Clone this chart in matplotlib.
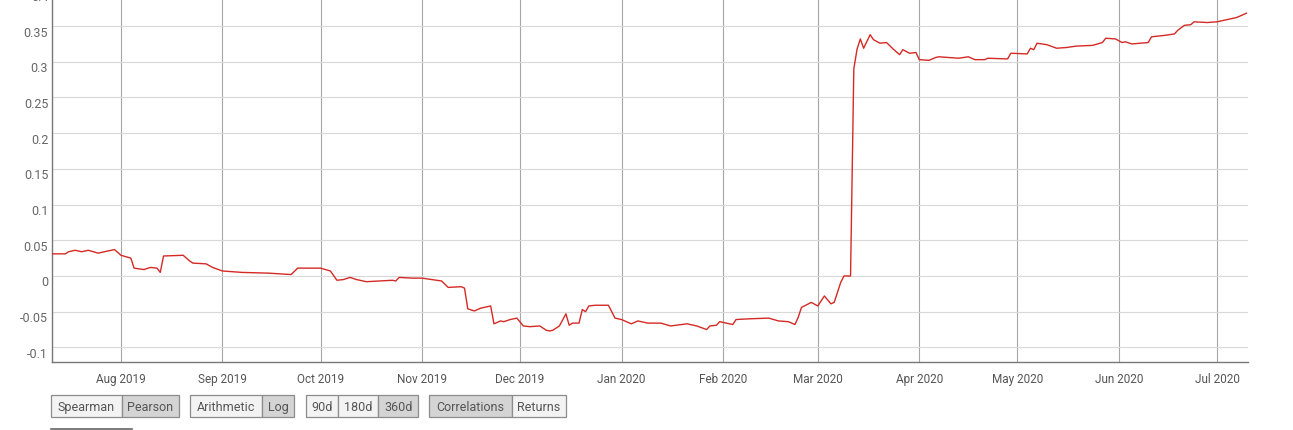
import matplotlib
matplotlib.use("Agg")
import matplotlib.pyplot as plt
import matplotlib.dates as mdates
import matplotlib.transforms as mtransforms
from matplotlib.patches import Rectangle
import pandas as pd

plt.rcParams['font.family'] = ['Roboto', 'DejaVu Sans']

# ---- data ----
start_date = "2019-07-11"
day_offsets = [0, 4, 5, 7, 9, 11, 14, 19, 21, 24, 25, 28, 30, 32, 33, 34, 40, 42, 43, 47, 49,
               52, 58, 66, 73, 75, 77, 82, 85, 87, 89, 91, 93, 96, 100, 104, 105, 106, 110,
               113, 116, 119, 121, 125, 126, 127, 129, 131, 132, 134, 135, 136, 137, 138, 140,
               142, 144, 146, 149, 151, 152, 153, 155, 157, 158, 159, 161, 162, 163, 164, 166,
               170, 172, 174, 177, 179, 182, 186, 189, 194, 197, 200, 201, 203, 204, 208, 209,
               213, 219, 222, 225, 227, 228, 229, 232, 234, 236, 238, 239, 241, 242, 244, 245,
               246, 247, 248, 250, 251, 253, 255, 257, 259, 260, 262, 264, 265, 268, 270, 271,
               277, 280, 282, 285, 286, 292, 293, 298, 299, 300, 301, 304, 307, 310, 313, 318,
               321, 322, 325, 327, 328, 330, 335, 336, 340, 343, 344, 346, 348, 349, 353, 356,
               360, 362, 365]
correlation = [0.031, 0.031, 0.034, 0.036, 0.034, 0.036, 0.032, 0.037, 0.029, 0.025, 0.011,
               0.009, 0.012, 0.011, 0.005, 0.028, 0.029, 0.021, 0.018, 0.017, 0.012,
               0.007, 0.005, 0.004, 0.002, 0.011, 0.011, 0.011, 0.007, -0.006, -0.005, -0.002,
               -0.005, -0.008, -0.007, -0.006, -0.007, -0.002, -0.003,
               -0.003, -0.005, -0.007, -0.016, -0.015, -0.017, -0.046, -0.049, -0.045, -0.044,
               -0.042, -0.067, -0.065, -0.063, -0.064, -0.061,
               -0.059, -0.070, -0.071, -0.070, -0.076, -0.077, -0.076, -0.070, -0.053, -0.069,
               -0.066, -0.066, -0.047, -0.050, -0.042, -0.041,
               -0.041, -0.059, -0.061, -0.067, -0.063, -0.066, -0.066, -0.070, -0.067, -0.070,
               -0.075, -0.070, -0.069, -0.064, -0.068, -0.061,
               -0.060, -0.059, -0.063, -0.064, -0.068, -0.058, -0.044, -0.037, -0.042, -0.028,
               -0.039, -0.037, -0.009, 0.000, 0.000, 0.290,
               0.318, 0.332, 0.319, 0.338, 0.331, 0.326, 0.327, 0.318, 0.310, 0.317, 0.312,
               0.313, 0.303, 0.302, 0.306, 0.307,
               0.305, 0.307, 0.303, 0.303, 0.305, 0.304, 0.312, 0.311, 0.319, 0.317, 0.326,
               0.324, 0.319, 0.320, 0.322, 0.323,
               0.327, 0.333, 0.332, 0.327, 0.328, 0.325, 0.327, 0.335, 0.337, 0.339, 0.344,
               0.351, 0.352, 0.356, 0.355, 0.356,
               0.360, 0.362, 0.368]
y_ticks = [-0.1, -0.05, 0, 0.05, 0.1, 0.15, 0.2, 0.25, 0.3, 0.35, 0.4]
y_tick_labels = ["-0.1", "-0.05", "0", "0.05", "0.1", "0.15", "0.2", "0.25", "0.3", "0.35", "0.4"]
button_groups = [
    [("Spearman", False), ("Pearson", True)],
    [("Arithmetic", False), ("Log", True)],
    [("90d", False), ("180d", False), ("360d", True)],
    [("Correlations", True), ("Returns", False)],
]

dates = pd.Timestamp(start_date) + pd.to_timedelta(day_offsets, unit="D")

W, H = 1293, 431
fig = plt.figure(figsize=(W / 100, H / 100), dpi=100)
fig.patch.set_facecolor("white")

left_px, right_px = 52.3, 1247.7
bottom_px, top_px = 363.3, -8.6
ax = fig.add_axes([left_px / W, 1 - bottom_px / H,
                   (right_px - left_px) / W, (bottom_px - top_px) / H])
ax.plot(dates, correlation, color="#d42a25", lw=1.0, zorder=3)

x0 = pd.Timestamp(start_date)
ax.set_xlim(x0, x0 + pd.Timedelta(days=365.4))
ax.set_ylim(-0.1209, 0.4)

ax.set_yticks(y_ticks)
ax.set_yticklabels(y_tick_labels)
ax.xaxis.set_major_locator(mdates.MonthLocator())
ax.xaxis.set_major_formatter(mdates.DateFormatter("%b %Y"))

ax.grid(axis="y", color="#d9d9d9", lw=0.8)
ax.grid(axis="x", color="#a6a6a6", lw=0.8)
ax.set_axisbelow(True)
for s in ["top", "right"]:
    ax.spines[s].set_visible(False)
ax.spines["left"].set_color("#777777")
ax.spines["bottom"].set_color("#777777")
ax.spines["left"].set_linewidth(1.0)
ax.spines["bottom"].set_linewidth(1.0)
ax.tick_params(axis="y", length=0, pad=3, labelsize=9, labelcolor="#666666")
ax.tick_params(axis="x", length=0, pad=7, labelsize=8.5, labelcolor="#555555")

# y labels sit slightly below their grid lines in the reference
offset = mtransforms.ScaledTranslation(0, -4.5 / 100, fig.dpi_scale_trans)
for lbl in ax.get_yticklabels():
    lbl.set_transform(lbl.get_transform() + offset)

# ---- overlay for control buttons ----
ov = fig.add_axes([0, 0, 1, 1])
ov.set_xlim(0, W)
ov.set_ylim(H, 0)
ov.axis("off")
ov.patch.set_alpha(0)

group_edges = [
    [51, 121.7, 179.3],
    [190.3, 261.7, 294.3],
    [305.7, 338.3, 378.3, 418.3],
    [429.3, 511.7, 566],
]
by0, by1 = 395.7, 418.3
for grp, edges in zip(button_groups, group_edges):
    for (label, active), xa, xb in zip(grp, edges[:-1], edges[1:]):
        ov.add_patch(Rectangle((xa, by0), xb - xa, by1 - by0,
                               facecolor="#d4d4d4" if active else "#f3f3f3",
                               edgecolor="#8c8c8c", lw=0.9))
        ov.text((xa + xb) / 2, (by0 + by1) / 2 + 0.5, label, ha="center", va="center",
                fontsize=9, color="#555555")

ov.plot([51, 131.7], [430.3, 430.3], color="#666666", lw=1.2)

fig.savefig("out.png", dpi=100)
